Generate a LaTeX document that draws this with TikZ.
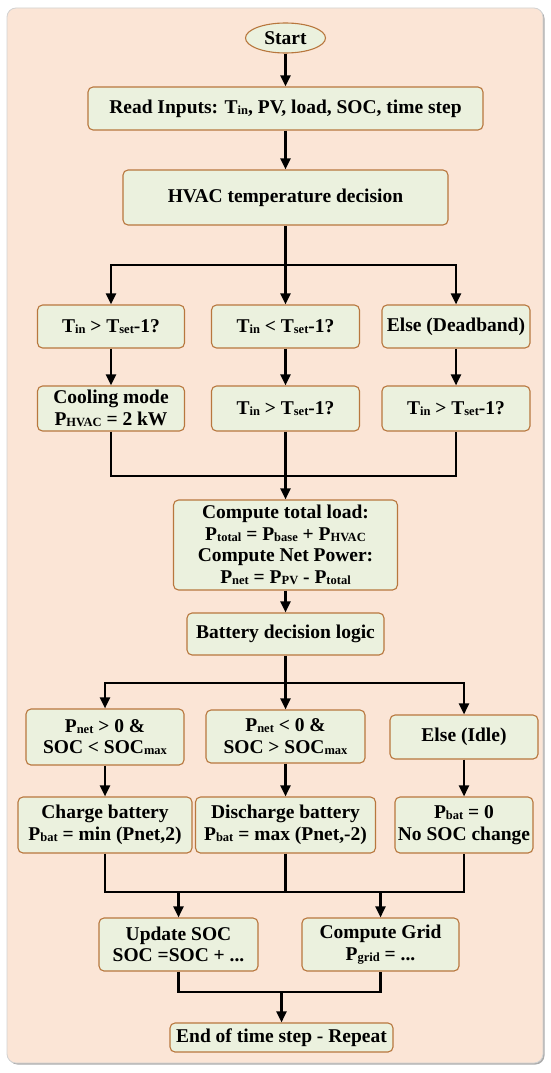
\documentclass[tikz,border=0pt]{standalone}
\usepackage{fontspec}
\setmainfont{Liberation Serif}
\usetikzlibrary{arrows.meta,shapes.geometric,calc}
\definecolor{peach}{HTML}{FBE5D6}
\definecolor{boxfill}{HTML}{EBF1DE}
\definecolor{boxline}{HTML}{B8773E}
\newcommand{\sbx}[1]{\raisebox{-0.12ex}{\fontsize{12.5}{12.5}\selectfont #1}}
\begin{document}
\begin{tikzpicture}[x=1pt,y=-1pt,
 box/.style={draw=boxline, fill=boxfill, line width=1.1pt, rounded corners=5pt, align=center, inner sep=0pt, font=\fontsize{19.5}{21.5}\selectfont\bfseries},
 ln/.style={line width=2.4pt, black},
 arr/.style={ln, -{Triangle[length=11pt,width=10pt]}},
]
\useasboundingbox (0,0) rectangle (550,1073);
\fill[gray!65, rounded corners=9pt] (8.5,9.5) rectangle (544.5,1064.5);
\draw[gray!35, fill=peach, line width=0.8pt, rounded corners=9pt] (7,8) rectangle (543,1063);

\node[box, ellipse, rounded corners=0pt, minimum width=80pt, minimum height=30pt] (start) at (285.5,38) {Start};
\node[box, minimum width=395pt, minimum height=43pt] (read) at (285.5,108.5) {Read Inputs: T\sbx{in}, PV, load, SOC, time step};
\node[box, minimum width=325pt, minimum height=55pt] (hvac) at (285.5,197.5) {HVAC temperature decision};

\node[box, minimum width=147pt, minimum height=43pt] (d1) at (111,326.5) {T\sbx{in} > T\sbx{set}-1?};
\node[box, minimum width=148pt, minimum height=43pt] (d2) at (285.5,326.5) {T\sbx{in} < T\sbx{set}-1?};
\node[box, minimum width=148pt, minimum height=43pt] (d3) at (456,326.5) {Else (Deadband)};

\node[box, minimum width=147pt, minimum height=45pt] (e1) at (111,408.5) {Cooling mode\\P\sbx{HVAC} = 2 kW};
\node[box, minimum width=148pt, minimum height=45pt] (e2) at (285.5,408.5) {T\sbx{in} > T\sbx{set}-1?};
\node[box, minimum width=148pt, minimum height=45pt] (e3) at (456,408.5) {T\sbx{in} > T\sbx{set}-1?};

\node[box, minimum width=224pt, minimum height=90pt] (comp) at (285.5,545) {Compute total load:\\P\sbx{total} = P\sbx{base} + P\sbx{HVAC}\\Compute Net Power:\\P\sbx{net} = P\sbx{PV} - P\sbx{total}};
\node[box, minimum width=197pt, minimum height=42pt] (batt) at (285.5,634) {Battery decision logic};

\node[box, minimum width=158pt, minimum height=56pt] (b1) at (105,737) {P\sbx{net} > 0 \&\\SOC < SOC\sbx{max}};
\node[box, minimum width=159pt, minimum height=53pt] (b2) at (285.5,736.5) {P\sbx{net} < 0 \&\\SOC > SOC\sbx{max}};
\node[box, minimum width=148pt, minimum height=44pt] (b3) at (464,737) {Else (Idle)};

\node[box, minimum width=174pt, minimum height=56pt] (c1) at (105,825) {Charge battery\\P\sbx{bat} = min (Pnet,2)};
\node[box, minimum width=180pt, minimum height=56pt] (c2) at (285.5,825) {Discharge battery\\P\sbx{bat} = max (Pnet,-2)};
\node[box, minimum width=138pt, minimum height=56pt] (c3) at (464,825) {P\sbx{bat} = 0\\No SOC change};

\node[box, minimum width=159pt, minimum height=53pt] (u1) at (178.5,944.5) {Update SOC\\SOC =SOC + ...};
\node[box, minimum width=157pt, minimum height=53pt] (u2) at (380.5,944.5) {Compute Grid\\P\sbx{grid} = ...};

\node[box, minimum width=223pt, minimum height=29pt] (end) at (281.5,1037.5) {End of time step - Repeat};

\coordinate (j1) at (285.5,265);
\coordinate (j2) at (285.5,476);
\coordinate (j3) at (285.5,683);
\coordinate (j4) at (285.5,892);
\coordinate (j5) at (281.5,992);

\draw[arr] (start) -- (read);
\draw[arr] (read) -- (hvac);
\draw[ln] (hvac.south) -- (j1);
\draw[arr] (j1) -| (d1.north);
\draw[arr] (j1) -| (d3.north);
\draw[arr] (j1) -- (d2.north);
\draw[arr] (d1) -- (e1);
\draw[arr] (d2) -- (e2);
\draw[arr] (d3) -- (e3);
\draw[ln] (e1.south) |- (j2) -| (e3.south);
\draw[ln] (e2.south) -- (j2);
\draw[arr] (j2) -- (comp.north);
\draw[arr] (comp) -- (batt);
\draw[ln] (batt.south) -- (j3);
\draw[arr] (j3) -| (b1.north);
\draw[arr] (j3) -| (b3.north);
\draw[arr] (j3) -- (b2.north);
\draw[arr] (b1) -- (c1);
\draw[arr] (b2) -- (c2);
\draw[arr] (b3) -- (c3);
\draw[ln] (c1.south) |- (j4) -| (c3.south);
\draw[ln] (c2.south) -- (j4);
\draw[arr] (u1.north |- j4) -- (u1.north);
\draw[arr] (u2.north |- j4) -- (u2.north);
\draw[ln] (u1.south) |- (j5) -| (u2.south);
\draw[arr] (j5) -- (end.north);
\end{tikzpicture}
\end{document}
